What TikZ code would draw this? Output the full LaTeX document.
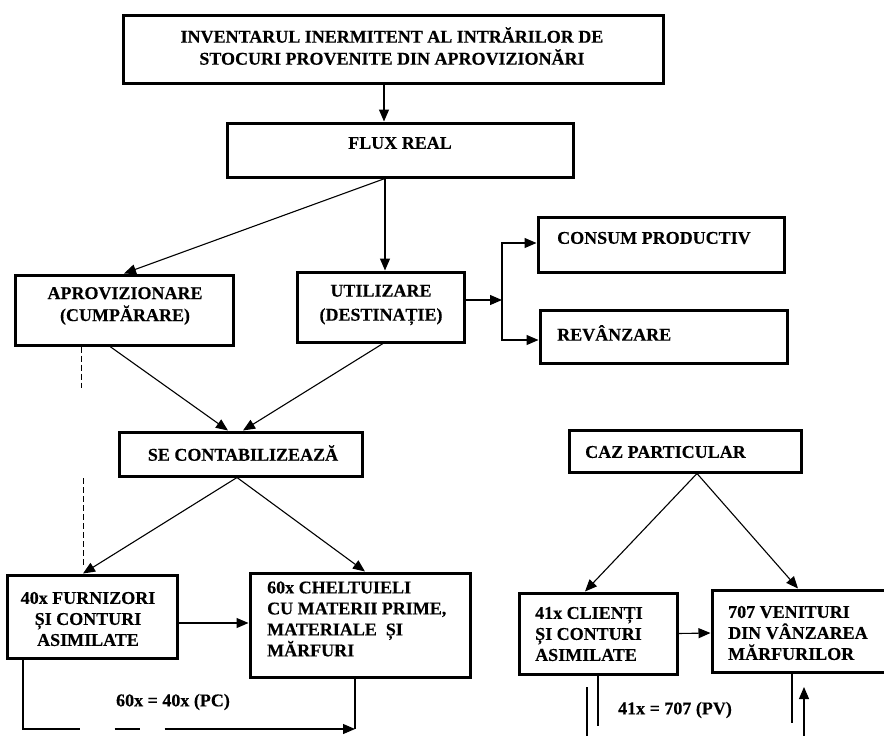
\documentclass[tikz,border=0pt]{standalone}
\usepackage{fontspec}
\setmainfont{Liberation Serif}[BoldFeatures={FakeBold=0.3}]
\usetikzlibrary{arrows.meta}
\begin{document}
\begin{tikzpicture}[x=1pt,y=-1pt,
  box/.style={draw, line width=3pt, inner sep=0pt},
  txt/.style={font=\fontsize{18}{22}\selectfont\bfseries, inner sep=0pt, align=center},
  ltxt/.style={txt, align=left, anchor=west},
  conn/.style={line width=1.1pt},
  arr/.style={conn, -{Triangle[length=12pt,width=10pt]}},
  guide/.style={line width=0.8pt, dash pattern=on 6pt off 3pt}]
\clip (0,0) rectangle (884,736);
\fill[white] (0,0) rectangle (884,736);

% ---- boxes ----
\node[box, minimum width=540pt, minimum height=68pt] (top) at (393,49) {};
\node[box, minimum width=346pt, minimum height=54pt] (flux) at (400,150) {};
\node[box, minimum width=218pt, minimum height=70pt] (apro) at (124,310) {};
\node[box, minimum width=167pt, minimum height=70pt] (util) at (380.5,307) {};
\node[box, minimum width=246pt, minimum height=55pt] (consum) at (661,244.5) {};
\node[box, minimum width=247pt, minimum height=53pt] (revanz) at (663.5,336.5) {};
\node[box, minimum width=243pt, minimum height=44pt] (secont) at (240.5,454) {};
\node[box, minimum width=232pt, minimum height=42pt] (caz) at (685,451) {};
\node[box, minimum width=170pt, minimum height=83pt] (f40) at (92,616.5) {};
\node[box, minimum width=220pt, minimum height=104pt] (c60) at (360,625) {};
\node[box, minimum width=158pt, minimum height=81pt] (c41) at (598,633.5) {};
\node[box, minimum width=188pt, minimum height=82pt] (v707) at (806,631) {};

% ---- box texts ----
\node[txt] (topt) at (392,46) {INVENTARUL INERMITENT AL INTRĂRILOR DE\\STOCURI PROVENITE DIN APROVIZIONĂRI};
\node[txt] (fluxt) at (400,143) {FLUX REAL};
\node[txt] (aprot) at (125,306) {APROVIZIONARE\\(CUMPĂRARE)};
\node[txt, font=\fontsize{18}{24}\selectfont\bfseries] (utilt) at (381,305) {UTILIZARE\\(DESTINAȚIE)};
\node[ltxt] (consumt) at (557,238) {CONSUM PRODUCTIV};
\node[ltxt] (revanzt) at (557,333) {REVÂNZARE};
\node[txt] (secontt) at (243,453) {SE CONTABILIZEAZĂ};
\node[ltxt] (cazt) at (585,452) {CAZ PARTICULAR};
\node[txt, font=\fontsize{18}{21}\selectfont\bfseries] (f40t) at (88,619) {40x FURNIZORI\\ȘI CONTURI\\ASIMILATE};
\node[ltxt, font=\fontsize{18}{21}\selectfont\bfseries] (c60t) at (267,619) {60x CHELTUIELI\\CU MATERII PRIME,\\MATERIALE\ \ ȘI\\MĂRFURI};
\node[ltxt, font=\fontsize{18}{21}\selectfont\bfseries] (c41t) at (535,634) {41x CLIENȚI\\ȘI CONTURI\\ASIMILATE};
\node[ltxt, font=\fontsize{18}{21}\selectfont\bfseries] (v707t) at (728,633) {707 VENITURI\\DIN VÂNZAREA\\MĂRFURILOR};

% ---- free ends ----
\coordinate (br) at (502,300);
\coordinate (d1) at (81,388);
\coordinate (d2a) at (83,478);
\coordinate (d2b) at (83,566);
\coordinate (pc) at (355,729);
\coordinate (r1a) at (587,687);
\coordinate (r1b) at (587,740);
\coordinate (r2) at (598,726);
\coordinate (r3) at (792,723);
\coordinate (r4a) at (804,740);
\coordinate (r4b) at (804,687);

% ---- connectors ----
\draw[arr] ([xshift=-9pt]top.south) -- ([xshift=-16pt]flux.north);
\draw[arr] ([xshift=-15pt]flux.south) -- (apro.north);
\draw[arr] ([xshift=-15pt]flux.south) -- ([xshift=4.5pt]util.north);
\draw[arr] ([yshift=7pt]util.east) -- (br);
\draw[arr] (br) |- ([yshift=1.5pt]consum.west);
\draw[arr] (br) |- ([yshift=-3.5pt]revanz.west);
\draw[arr] ([xshift=-14pt]apro.south) -- ([xshift=-12.5pt]secont.north);
\draw[arr] ([xshift=2.5pt]util.south) -- ([xshift=2.5pt]secont.north);
\draw[arr] ([xshift=-3.5pt]secont.south) -- ([xshift=-9pt]f40.north);
\draw[arr] ([xshift=-3.5pt]secont.south) -- ([xshift=5pt]c60.north);
\draw[arr] ([yshift=-6.5pt]f40.east) -- ([yshift=2pt]c60.west);
\draw[arr] ([xshift=12pt]caz.south) -- ([xshift=-13pt]c41.north);
\draw[arr] ([xshift=12pt]caz.south) -- ([xshift=-8pt]v707.north);
\draw[arr] (c41.east) -- ([yshift=-2pt]v707.west);

% dashed guides under the purchase box
\draw[guide] ([xshift=-43pt]apro.south) -- (d1);
\draw[guide] (d2a) -- (d2b);

% settlement 60x = 40x
\draw[arr, dash pattern=on 126pt off 35pt on 25pt off 25pt on 500pt]
  ([xshift=-69pt]f40.south) |- (pc);
\draw[conn] ([xshift=-5pt]c60.south) -- (pc);
\node[txt] (pclab) at (173,702) {60x = 40x (PC)};

% settlement 41x = 707
\draw[conn] (r1a) -- (r1b);
\draw[conn] (c41.south) -- (r2);
\draw[conn] ([xshift=-14pt]v707.south) -- (r3);
\draw[arr] (r4a) -- (r4b);
\node[txt] (pvlab) at (675,710) {41x = 707 (PV)};
\end{tikzpicture}
\end{document}
